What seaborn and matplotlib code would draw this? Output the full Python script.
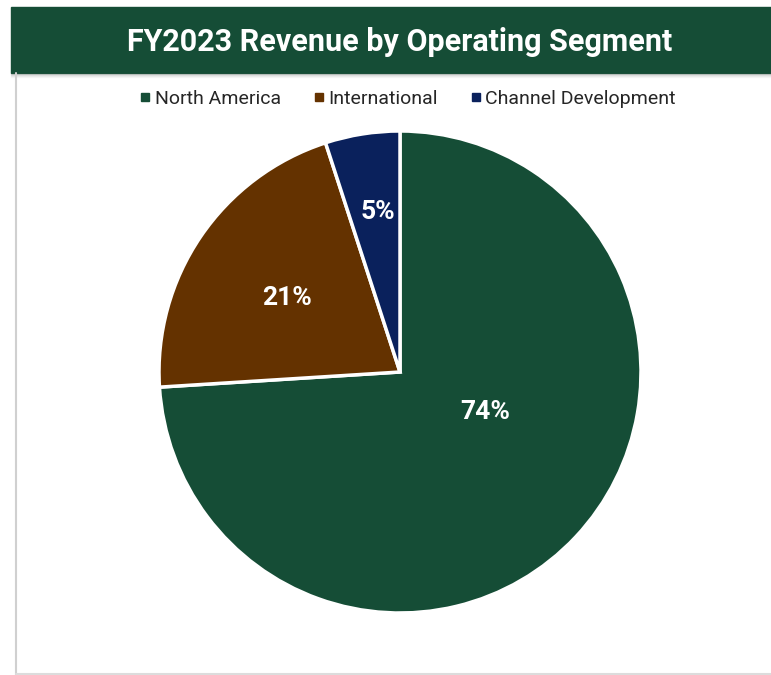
import matplotlib
matplotlib.use("Agg")
import numpy as np
import matplotlib.pyplot as plt
import seaborn as sns
from matplotlib.patches import Rectangle
from matplotlib.lines import Line2D

# data
segments = ['North America', 'International', 'Channel Development']
shares = [74, 21, 5]
colors = ['#154d36', '#643200', '#0a215c']

# label placement (fraction of radius, angle shift in degrees)
label_r = [0.39, 0.56, 0.67]
label_shift = [18, 1, -1]

sns.set_style("white")
plt.rcParams['font.family'] = ['Roboto', 'DejaVu Sans']

W, H = 771, 675
fig = plt.figure(figsize=(W / 100, H / 100), dpi=100)
fig.patch.set_facecolor('white')

# title bar
fig.add_artist(Rectangle((11 / W, 1 - 73 / H), 1 - 11 / W, 66 / H,
                         transform=fig.transFigure, color='#154d36', zorder=0))
for i, a in enumerate([0.3, 0.2, 0.12, 0.06]):
    fig.add_artist(Line2D([11 / W, 1], [1 - (74 + i) / H] * 2, transform=fig.transFigure,
                          color='grey', alpha=a, lw=1))
fig.text(400 / W, 1 - 42 / H, 'FY2023 Revenue by Operating Segment', color='white',
         fontsize=22, fontweight='bold', ha='center', va='center')

# frame lines
fig.add_artist(Line2D([16 / W, 16 / W], [0, 1 - 73 / H], transform=fig.transFigure,
                      color='#d0d0d0', lw=1.5))
fig.add_artist(Line2D([16 / W, 1], [1.5 / H, 1.5 / H], transform=fig.transFigure,
                      color='#dcdcdc', lw=1.5))

# pie
cx, cy, r = 400, 372, 241
ax = fig.add_axes([(cx - r) / W, (H - cy - r) / H, 2 * r / W, 2 * r / H])
wedges, _ = ax.pie(shares, colors=colors, startangle=90, counterclock=False,
                   wedgeprops=dict(edgecolor='white', linewidth=2.5))
ax.set_xlim(-1, 1)
ax.set_ylim(-1, 1)
ax.set_aspect('equal')
ax.axis('off')

for w, s, rr, sh in zip(wedges, shares, label_r, label_shift):
    mid = np.deg2rad((w.theta1 + w.theta2) / 2 + sh)
    ax.text(rr * np.cos(mid), rr * np.sin(mid), f'{s}%', color='white',
            fontsize=19, fontweight='bold', ha='center', va='center')

# legend
handles = [Line2D([], [], marker='s', color=c, linestyle='', markersize=6) for c in colors]
fig.legend(handles, segments, loc='center', bbox_to_anchor=(406 / W, 1 - 99 / H),
           ncol=3, frameon=False, fontsize=14, handletextpad=0.05, columnspacing=1.5,
           handlelength=0.9)

fig.savefig('out.png', dpi=100)
